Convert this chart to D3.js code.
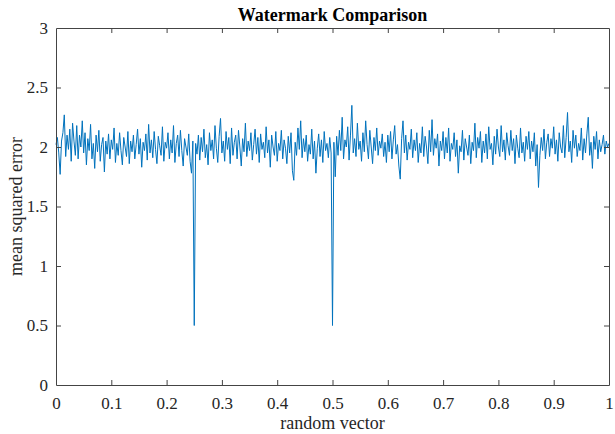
<!DOCTYPE html>
<html>
<head>
<meta charset="utf-8">
<script src="https://cdn.jsdelivr.net/npm/d3@7"></script>
<style>
body{margin:0;background:#fff;}
svg{display:block;}
text{font-family:"Liberation Serif","Times New Roman",serif;fill:#262626;}
</style>
</head>
<body>
<div id="chart"></div>
<script>
// 数据
var titleText="Watermark Comparison";
var xLabel="random vector";
var yLabel="mean squared error";
var xTicks=[0,0.1,0.2,0.3,0.4,0.5,0.6,0.7,0.8,0.9,1];
var yTicks=[0,0.5,1,1.5,2,2.5,3];
// mse (x runs 0..1 evenly)
var mse=[
2.02,2.08,1.95,1.77,2.05,2.12,2.27,1.92,2.1,1.98,2.15,1.88,2.2,2.05,1.93,2.18,1.9,2.1,2.0,2.22,
1.95,2.12,1.85,2.07,1.97,2.19,1.9,2.03,1.82,2.1,1.96,2.14,1.88,2.02,2.08,1.79,2.05,1.94,2.11,1.9,
2.06,1.98,2.16,1.87,2.03,1.93,2.12,1.97,1.85,2.08,2.0,1.92,2.13,1.86,2.05,1.96,2.1,1.9,2.02,2.15,
1.94,2.07,1.83,2.04,1.97,2.11,1.89,2.19,1.95,2.06,1.91,2.13,1.98,1.86,2.09,2.01,1.93,2.17,1.88,2.04,
1.99,2.12,1.9,2.06,1.95,2.18,1.87,2.03,2.1,1.92,2.14,1.97,1.84,2.07,2.0,1.93,2.11,1.88,1.78,2.05,
0.5,
2.03,1.94,2.1,1.89,2.08,1.96,2.15,1.91,2.02,1.85,2.12,1.97,2.06,1.9,2.18,1.99,1.87,2.09,2.24,1.95,
2.05,1.88,2.13,1.98,2.08,1.86,2.16,1.93,2.04,2.1,1.9,2.14,2.0,1.84,2.07,1.96,2.2,1.92,2.05,1.97,
2.12,1.89,2.02,2.15,1.94,2.08,1.87,2.11,1.98,2.04,1.91,2.17,1.95,2.06,1.83,2.1,2.0,1.93,2.13,1.88,
2.03,1.97,2.14,1.9,2.06,1.99,1.86,2.09,1.95,2.12,1.8,1.72,2.04,1.93,2.16,1.98,2.22,1.91,2.07,1.96,
2.1,1.88,2.02,1.94,2.15,1.9,2.05,1.78,1.99,2.11,1.92,2.06,1.87,2.13,1.97,2.03,1.91,2.08,1.95,
0.5,
2.04,1.75,2.09,1.93,2.14,1.97,2.25,1.9,2.06,2.0,2.17,1.89,2.1,2.35,1.95,2.07,1.92,2.2,1.98,2.05,
1.88,2.12,1.96,2.22,2.02,1.9,2.14,2.0,1.86,2.08,1.97,2.16,1.93,2.05,1.99,2.11,1.92,2.04,1.87,2.1,
1.96,2.13,1.9,2.06,2.18,1.94,2.02,1.84,1.73,2.07,2.22,1.95,2.1,1.89,2.04,1.98,2.15,1.91,2.06,1.97,
2.12,1.87,2.03,1.95,2.17,1.92,2.09,2.0,1.86,2.14,1.96,2.23,1.93,2.07,1.99,2.11,1.84,2.05,1.97,2.13,
1.9,2.08,1.95,2.16,1.88,2.03,1.98,2.12,1.92,2.06,1.78,2.01,1.96,2.14,1.89,2.07,2.0,1.93,2.1,1.86,
2.04,1.97,2.2,1.91,2.08,1.99,2.13,1.87,2.05,1.95,2.11,1.9,2.17,1.98,2.03,1.85,2.09,1.94,2.15,2.0,
1.92,2.18,1.96,2.06,1.89,2.12,2.01,1.93,2.14,1.97,2.07,1.86,2.1,1.99,1.91,2.16,1.95,2.04,1.88,2.09,
1.98,2.13,1.9,2.05,1.96,2.12,1.84,2.02,1.66,1.93,2.08,1.97,2.15,1.9,2.04,2.11,1.92,2.07,1.99,2.17,
1.94,2.06,1.88,2.12,2.0,1.95,2.18,1.91,2.08,2.29,1.96,2.05,1.87,2.14,1.99,2.1,1.92,2.03,1.97,2.16,
1.89,2.07,1.95,2.11,2.25,1.93,2.04,1.82,2.09,1.98,2.13,1.9,2.06,1.96,2.02,2.1,1.94,2.05,2.0,2.03
];

var W=615,H=434;
var mLeft=56,mRight=609,mTop=28,mBottom=385;

var svg=d3.select("#chart").append("svg")
    .attr("width",W)
    .attr("height",H)
    .style("background","#fff");

var scale_x=d3.scaleLinear().domain([0,1]).range([mLeft,mRight]);
var scale_y=d3.scaleLinear().domain([0,3]).range([mBottom,mTop]);

// 折线
var line=d3.line()
    .x(function(d,i){return scale_x(i/(mse.length-1));})
    .y(function(d){return scale_y(d);});
svg.append("path")
    .datum(mse)
    .attr("d",line)
    .attr("fill","none")
    .attr("stroke","#0072BD")
    .attr("stroke-width",1)
    .attr("stroke-linejoin","round");

// 坐标轴 (ticks inward, box on)
var axisColor="#444";
var tl=5;
var xa=svg.append("g").attr("transform","translate(0,"+mBottom+")")
    .call(d3.axisBottom(scale_x).tickValues(xTicks).tickSizeInner(-tl).tickSizeOuter(0).tickPadding(12).tickFormat(d3.format("")));
var xt=svg.append("g").attr("transform","translate(0,"+mTop+")")
    .call(d3.axisTop(scale_x).tickValues(xTicks).tickSizeInner(-tl).tickSizeOuter(0).tickFormat(""));
var ya=svg.append("g").attr("transform","translate("+mLeft+",0)")
    .call(d3.axisLeft(scale_y).tickValues(yTicks).tickSizeInner(-tl).tickSizeOuter(0).tickPadding(8).tickFormat(d3.format("")));
var yr=svg.append("g").attr("transform","translate("+mRight+",0)")
    .call(d3.axisRight(scale_y).tickValues(yTicks).tickSizeInner(-tl).tickSizeOuter(0).tickFormat(""));

[xa,xt,ya,yr].forEach(function(g){
    g.selectAll("path").attr("stroke",axisColor);
    g.selectAll("line").attr("stroke",axisColor);
    g.selectAll("text").attr("fill","#262626")
        .style("font-family","'Liberation Serif','Times New Roman',serif")
        .style("font-size","17px");
});
// 去掉端点重复的tick线
xa.selectAll(".tick line").filter(function(d){return d==0||d==1;}).remove();
xt.selectAll(".tick line").filter(function(d){return d==0||d==1;}).remove();
ya.selectAll(".tick line").filter(function(d){return d==0||d==3;}).remove();
yr.selectAll(".tick line").filter(function(d){return d==0||d==3;}).remove();

// 标题和标签
svg.append("text")
    .attr("x",(mLeft+mRight)/2)
    .attr("y",21)
    .attr("text-anchor","middle")
    .style("font-size","18px")
    .style("font-weight","bold")
    .style("fill","#000")
    .text(titleText);
svg.append("text")
    .attr("x",(mLeft+mRight)/2)
    .attr("y",429)
    .attr("text-anchor","middle")
    .style("font-size","18px")
    .text(xLabel);
svg.append("text")
    .attr("transform","translate(22,"+((mTop+mBottom)/2)+") rotate(-90)")
    .attr("text-anchor","middle")
    .style("font-size","18px")
    .text(yLabel);
</script>
</body>
</html>
